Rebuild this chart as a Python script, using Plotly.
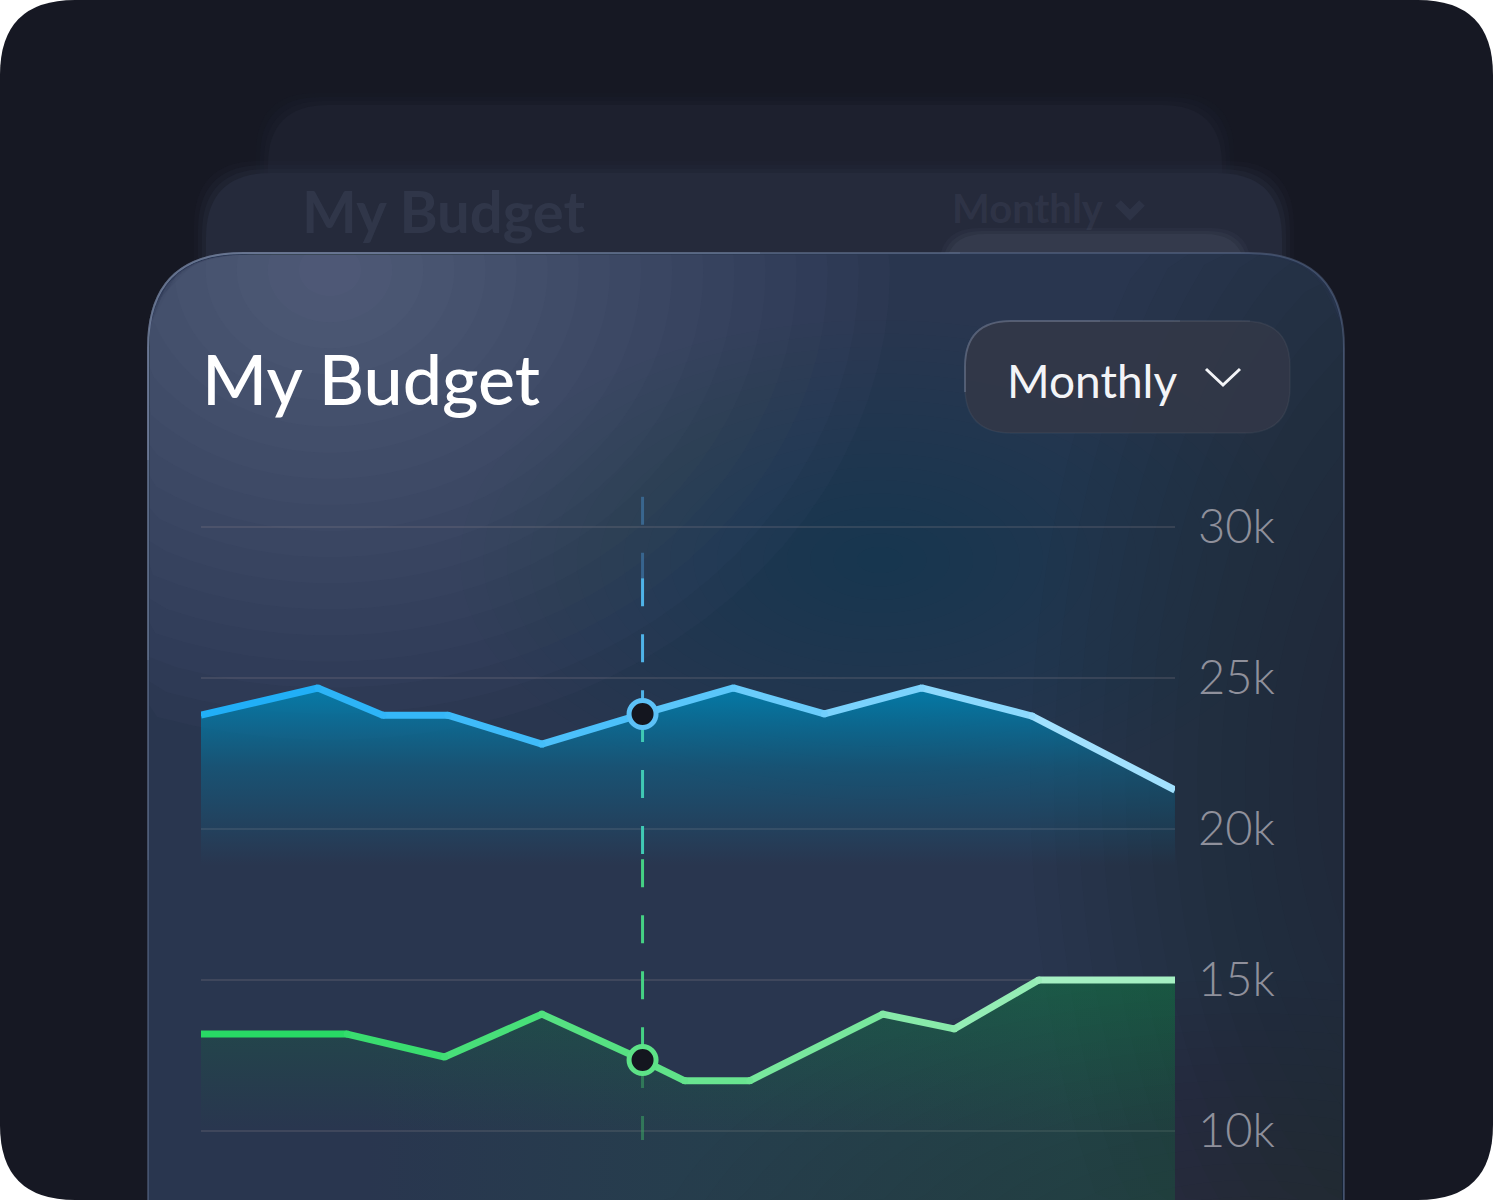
import math
import plotly.graph_objects as go

# days of the month for each reading, and amounts in thousands
days_income = [0, 3.6, 5.6, 7.6, 10.5, 13.6, 16.4, 19.2, 22.2, 25.6, 30]
income = [23.77, 24.67, 23.77, 23.77, 22.81, 23.81, 24.67, 23.81, 24.67, 23.74, 21.29]

days_expense = [0, 4.5, 7.5, 10.5, 13.6, 14.9, 16.9, 21.0, 23.2, 25.8, 30]
expense = [13.21, 13.21, 12.45, 13.87, 12.35, 11.66, 11.66, 13.87, 13.38, 15.0, 15.0]

selected_day = 13.6
tick_vals = [10, 15, 20, 25, 30]
tick_text = ["10k", "15k", "20k", "25k", "30k"]

W, H = 1493, 1200
FONT = "Lato"


def X(px):
    return px / W


def Y(py):
    return 1 - py / H


def top_card(x0, y0, x1, y1, rl, rr):
    """rounded top corners only, bottom runs off the picture"""
    return (f"M{X(x0)},{Y(y1)} L{X(x0)},{Y(y0 + rl)} Q{X(x0)},{Y(y0)} {X(x0 + rl)},{Y(y0)} "
            f"L{X(x1 - rr)},{Y(y0)} Q{X(x1)},{Y(y0)} {X(x1)},{Y(y0 + rr)} L{X(x1)},{Y(y1)} Z")


def round_rect(x0, y0, x1, y1, r):
    return (f"M{X(x0 + r)},{Y(y0)} L{X(x1 - r)},{Y(y0)} Q{X(x1)},{Y(y0)} {X(x1)},{Y(y0 + r)} "
            f"L{X(x1)},{Y(y1 - r)} Q{X(x1)},{Y(y1)} {X(x1 - r)},{Y(y1)} "
            f"L{X(x0 + r)},{Y(y1)} Q{X(x0)},{Y(y1)} {X(x0)},{Y(y1 - r)} "
            f"L{X(x0)},{Y(y0 + r)} Q{X(x0)},{Y(y0)} {X(x0 + r)},{Y(y0)} Z")


# main card outline
CX0, CX1, CY0, CR = 148, 1344, 253, 95


def card_top_y(x):
    if x < CX0 + CR:
        t = math.sqrt(max(x - CX0, 0) / CR)
        return CY0 + CR * (1 - t) ** 2
    if x > CX1 - CR:
        t = math.sqrt(max(CX1 - x, 0) / CR)
        return CY0 + CR * (1 - t) ** 2
    return CY0


def clipped_ellipse(cx, cy, rx, ry, n=90):
    pts = []
    for k in range(n):
        a = 2 * math.pi * k / n
        x = min(max(cx + rx * math.cos(a), CX0 + 1.5), CX1 - 1.5)
        y = cy + ry * math.sin(a)
        y = min(max(y, card_top_y(x) + 1.5), H)
        pts.append(f"{X(x)},{Y(y)}")
    return "M" + " L".join(pts) + " Z"


def hex2rgb(h):
    h = h.lstrip("#")
    return [int(h[i:i + 2], 16) for i in (0, 2, 4)]


def color_at(x, stops):
    for (xa, ca), (xb, cb) in zip(stops[:-1], stops[1:]):
        if xa <= x <= xb:
            t = (x - xa) / (xb - xa)
            a, b = hex2rgb(ca), hex2rgb(cb)
            c = [round(a[i] + (b[i] - a[i]) * t) for i in range(3)]
            return f"rgb({c[0]},{c[1]},{c[2]})"
    return stops[-1][1]


blue_stops = [(0, "#1aacf6"), (13.6, "#52c3fa"), (30, "#aee6ff")]
green_stops = [(0, "#1ed95f"), (13.6, "#5de286"), (30, "#b0f2cc")]

shapes = []


def add_path(path, fill, line=None, width=0, layer="below"):
    shapes.append(dict(type="path", path=path, xref="paper", yref="paper", layer=layer,
                       fillcolor=fill, line=dict(color=line or "rgba(0,0,0,0)", width=width)))


def soft_glow(cx, cy, rx, ry, rgb, alpha, steps=18):
    for j in range(steps):
        s = 1 - j / steps
        add_path(clipped_ellipse(cx, cy, rx * s, ry * s), f"rgba({rgb},{alpha / steps:.4f})")


def edge_line(path, rgb, alpha, width=2):
    shapes.append(dict(type="path", xref="paper", yref="paper", layer="below", path=path,
                       fillcolor="rgba(0,0,0,0)", line=dict(color=f"rgba({rgb},{alpha})", width=width)))


# dark frame
add_path(round_rect(0, 0, W, H, 75), "#161823")

# stacked cards behind, soft edges
for g, a in [(12, 0.15), (8, 0.25), (4, 0.4), (0, 1)]:
    add_path(top_card(268 - g, 105 - g, 1222 + g, 1300, 60, 60), f"rgba(29,32,46,{a})")
for g, a in [(12, 0.15), (8, 0.25), (4, 0.4), (0, 1)]:
    add_path(top_card(206 - g, 173 - g, 1282 + g, 1300, 65, 65), f"rgba(37,42,59,{a})")
for g, a in [(6, 0.2), (3, 0.3), (0, 0.45)]:
    add_path(round_rect(945 - g, 234 - g, 1245 + g, 330, 40), f"rgba(60,66,84,{a})")
add_path(f"M{X(1118)},{Y(203)} L{X(1130)},{Y(215)} L{X(1142)},{Y(203)}", "rgba(0,0,0,0)", "rgba(80,90,115,0.2)", 8)

# main card
add_path(top_card(CX0, CY0, CX1, 1300, CR, CR), "#29364f")
soft_glow(330, 270, 560, 470, "150,165,195", 0.42)
soft_glow(880, 560, 420, 240, "30,90,120", 0.24)
soft_glow(1460, 780, 430, 780, "20,21,32", 0.6)
soft_glow(1250, 1280, 600, 300, "22,23,34", 0.4)
# border, brighter at the top left
edge_line(top_card(CX0, CY0, CX1, 1300, CR, CR), "100,118,150", 0.45)
for end, a in [(560, 0.18), (760, 0.14), (960, 0.1)]:
    edge_line(f"M{X(148)},{Y(end - 100)} L{X(148)},{Y(348)} Q{X(148)},{Y(253)} {X(243)},{Y(253)} L{X(end)},{Y(253)}",
              "170,185,215", a)

# period button
add_path(round_rect(965, 321, 1290, 433, 46), "rgba(50,55,72,0.92)", "rgba(255,255,255,0.05)", 1.5)
for end, a in [(1100, 0.15), (1180, 0.12), (1250, 0.08)]:
    edge_line(f"M{X(965)},{Y(392)} L{X(965)},{Y(367)} Q{X(965)},{Y(321)} {X(1011)},{Y(321)} L{X(end)},{Y(321)}",
              "160,170,195", a)
add_path(f"M{X(1206)},{Y(369)} L{X(1223)},{Y(385)} L{X(1240)},{Y(369)}", "rgba(0,0,0,0)", "#f3f4f7", 3, "above")

fig = go.Figure()

# area fills
fig.add_trace(go.Scatter(
    x=days_income, y=income, mode="lines", line=dict(width=0), fill="tozeroy",
    fillgradient=dict(type="vertical", start=18.8, stop=24.7,
                      colorscale=[[0, "rgba(0,125,170,0)"], [0.55, "rgba(0,125,170,0.4)"], [1, "rgba(0,132,180,0.88)"]]),
    hoverinfo="skip"))
fig.add_trace(go.Scatter(
    x=days_expense, y=expense, mode="lines", line=dict(width=0), fill="tozeroy",
    fillgradient=dict(type="horizontal", start=5.0, stop=27.0,
                      colorscale=[[0, "rgba(14,120,62,0)"], [1, "rgba(14,125,64,0.25)"]]),
    hoverinfo="skip"))
fig.add_trace(go.Scatter(
    x=days_expense, y=expense, mode="lines", line=dict(width=0), fill="tozeroy",
    fillgradient=dict(type="vertical", start=10.0, stop=15.0,
                      colorscale=[[0, "rgba(14,110,60,0)"], [1, "rgba(14,125,64,0.35)"]]),
    hoverinfo="skip"))

# dashed marker line, colour shifts from blue to green
dash_parts = [
    (31.0, 28.3, "rgba(70,140,200,0.5)"),
    (28.3, income[5], "#4fb3e8"),
    (income[5], 19.0, "#40c9b4"),
    (19.0, expense[4], "#45d184"),
    (expense[4], 9.7, "rgba(60,165,100,0.55)"),
]
for y_top, y_bot, col in dash_parts:
    fig.add_trace(go.Scatter(x=[selected_day, selected_day], y=[y_top, y_bot], mode="lines",
                             line=dict(color=col, width=3, dash="28px,28px"), hoverinfo="skip"))

# lines drawn piece by piece to carry a colour gradient
for xs, ys, stops in [(days_income, income, blue_stops), (days_expense, expense, green_stops)]:
    for i in range(len(xs) - 1):
        c = color_at((xs[i] + xs[i + 1]) / 2, stops)
        fig.add_trace(go.Scatter(x=xs[i:i + 2], y=ys[i:i + 2], mode="lines",
                                 line=dict(color=c, width=7), hoverinfo="skip"))
    fig.add_trace(go.Scatter(x=xs[1:-1], y=ys[1:-1], mode="markers",
                             marker=dict(size=7, color=[color_at(v, stops) for v in xs[1:-1]], line=dict(width=0)),
                             hoverinfo="skip"))

# selected points
fig.add_trace(go.Scatter(x=[selected_day], y=[income[5]], mode="markers",
                         marker=dict(size=27, color="#14161f", line=dict(color="#5cc1f7", width=5))))
fig.add_trace(go.Scatter(x=[selected_day], y=[expense[4]], mode="markers",
                         marker=dict(size=27, color="#14161f", line=dict(color="#5de287", width=5))))

annotations = [
    dict(text="My Budget", x=X(200), y=Y(378), xref="paper", yref="paper", xanchor="left", yanchor="middle",
         showarrow=False, font=dict(family=FONT, size=70, color="#ffffff", weight=500)),
    dict(text="Monthly", x=X(1005), y=Y(380), xref="paper", yref="paper", xanchor="left", yanchor="middle",
         showarrow=False, font=dict(family=FONT, size=46, color="#f3f4f7", weight=400)),
    # faded titles on the card behind
    dict(text="My Budget", x=X(300), y=Y(210), xref="paper", yref="paper", xanchor="left", yanchor="middle",
         showarrow=False, font=dict(family=FONT, size=58, color="rgba(85,95,120,0.24)", weight=700)),
    dict(text="Monthly", x=X(950), y=Y(208), xref="paper", yref="paper", xanchor="left", yanchor="middle",
         showarrow=False, font=dict(family=FONT, size=40, color="rgba(85,95,120,0.2)", weight=700)),
]

fig.update_layout(
    width=W, height=H,
    margin=dict(l=0, r=0, t=0, b=0),
    paper_bgcolor="#ffffff",
    plot_bgcolor="rgba(0,0,0,0)",
    showlegend=False,
    shapes=shapes,
    annotations=annotations,
    xaxis=dict(domain=[X(201), X(1175)], range=[0, 30], visible=False, fixedrange=True),
    yaxis=dict(domain=[0, Y(460)], range=[7.715, 32.219], side="right",
               tickvals=tick_vals, ticktext=tick_text, ticks="", ticklabelstandoff=22,
               tickfont=dict(family=FONT, size=47, color="#8f909b", weight=300),
               showgrid=True, gridcolor="rgba(140,130,140,0.22)", gridwidth=2,
               zeroline=False, showline=False, fixedrange=True),
)

fig.write_html("out.html", config={"displayModeBar": False},
               post_script="document.body.style.margin='0';")
